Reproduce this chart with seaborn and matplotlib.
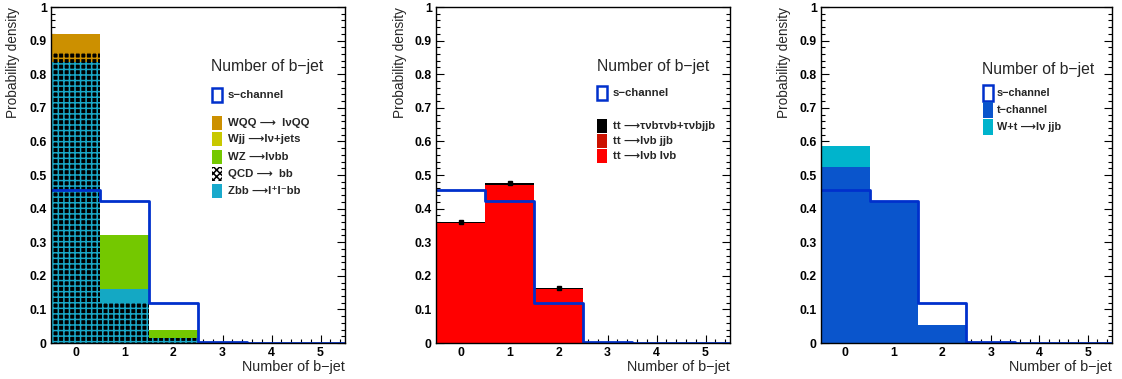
import numpy as np
import matplotlib
matplotlib.use("Agg")
import matplotlib.pyplot as plt
from matplotlib.patches import Rectangle
from matplotlib.ticker import MultipleLocator, FixedLocator, FixedFormatter
import seaborn as sns

# ---------------- data ----------------
bins = [0, 1, 2, 3, 4, 5]
s_channel = [0.455, 0.422, 0.120, 0.003, 0.0, 0.0]

# panel 1 (backgrounds) - visual layers, bottom to top
qcd_zbb = [0.835, 0.120, 0.015, 0.002, 0.0, 0.0]
qcd_wqq = [0.030, 0.0, 0.0, 0.0, 0.0, 0.0]
zbb = [0.0, 0.040, 0.0, 0.0, 0.0, 0.0]
wz = [0.0, 0.160, 0.025, 0.0, 0.0, 0.0]
wjj = [0.0, 0.0, 0.0, 0.0, 0.0, 0.0]
wqq = [0.055, 0.0, 0.0, 0.0, 0.0, 0.0]

# panel 2 (ttbar)
tt_lvb_lvb = [0.356, 0.471, 0.160, 0.002, 0.0, 0.0]
tt_lvb_jjb = [0.0, 0.0, 0.0, 0.0, 0.0, 0.0]
tt_tau = [0.004, 0.004, 0.003, 0.001, 0.0, 0.0]

# panel 3 (single top)
t_channel = [0.525, 0.420, 0.055, 0.002, 0.0, 0.0]
w_t = [0.060, 0.002, 0.0, 0.0, 0.0, 0.0]

y_ticks = [0, 0.1, 0.2, 0.3, 0.4, 0.5, 0.6, 0.7, 0.8, 0.9, 1.0]
y_tick_labels = ["0", "0.1", "0.2", "0.3", "0.4", "0.5", "0.6", "0.7", "0.8", "0.9", "1"]
x_tick_labels = ["0", "1", "2", "3", "4", "5"]

title_text = "Number of b\u2212jet"
ylabel_text = "Probability density"

# ---------------- style ----------------
sns.set_style("ticks")
plt.rcParams["font.family"] = ["Liberation Sans", "DejaVu Sans"]
plt.rcParams["hatch.linewidth"] = 1.1
plt.rcParams["axes.linewidth"] = 1.0

SBLUE = "#0030cc"
FAM = ["Liberation Sans", "DejaVu Sans"]

fig = plt.figure(figsize=(11.22, 3.79), dpi=100)
H = 379.0
W = 1122.0
axes_px = [(51, 294), (436, 294), (821, 291)]
axs = []
for x0, w in axes_px:
    axs.append(fig.add_axes([x0 / W, 1 - 343 / H, w / W, 336 / H]))


def stack(ax, layers):
    bottom = np.zeros(len(bins))
    for vals, kw in layers:
        vals = np.asarray(vals, dtype=float)
        ax.bar(bins, vals, width=1.0, bottom=bottom, linewidth=0, zorder=2, **kw)
        bottom = bottom + vals
    return bottom


def s_line(ax):
    sns.histplot(x=bins, weights=s_channel, discrete=True, element="step",
                 fill=False, color=SBLUE, linewidth=2.0, ax=ax, zorder=4)


def style(ax, ylab_x):
    ax.set_xlim(-0.5, 5.5)
    ax.set_ylim(0, 1)
    ax.set_xlabel("")
    ax.set_ylabel("")
    ax.xaxis.set_major_locator(FixedLocator(bins))
    ax.xaxis.set_major_formatter(FixedFormatter(x_tick_labels))
    ax.xaxis.set_minor_locator(MultipleLocator(0.2))
    ax.yaxis.set_major_locator(FixedLocator(y_ticks))
    ax.yaxis.set_major_formatter(FixedFormatter(y_tick_labels))
    ax.yaxis.set_minor_locator(MultipleLocator(0.02))
    ax.tick_params(which="both", direction="in", top=False, right=True,
                   width=0.8, colors="black", zorder=6)
    ax.tick_params(which="major", length=5.5, labelsize=8.8, pad=3)
    ax.tick_params(which="minor", length=3)
    for lab in ax.get_xticklabels() + ax.get_yticklabels():
        lab.set_fontweight("bold")
    for sp in ax.spines.values():
        sp.set_visible(True)
        sp.set_color("black")
        sp.set_linewidth(1.0)
        sp.set_zorder(6)
    ax.text(ylab_x, 1.0, ylabel_text, rotation=90, ha="center", va="top",
            fontsize=9.8, transform=ax.transAxes)
    ax.text(1.0, -0.072, title_text, ha="right", va="center", fontsize=10.4,
            transform=ax.transAxes)


def legend(ax, tx, ty, boxx, textx, entries, fs=8.2, bh=0.042, bw=0.034):
    ax.text(tx, ty, title_text, ha="left", va="center", fontsize=11.3,
            transform=ax.transAxes)
    for y, label, kw in entries:
        r = Rectangle((boxx, y - bh / 2), bw, bh, transform=ax.transAxes,
                      clip_on=False, zorder=7, **kw)
        ax.add_patch(r)
        ax.text(textx, y, label, ha="left", va="center", fontsize=fs,
                fontweight="bold", family=FAM, transform=ax.transAxes, zorder=7)


ARR = "\u27f6"

# ---------------- panel 1 ----------------
ax = axs[0]
stack(ax, [
    (qcd_zbb, dict(color="black", edgecolor="#19a8c8", hatch="+++")),
    (qcd_wqq, dict(color="black", edgecolor="#cc9000", hatch="+++")),
    (zbb, dict(color="#14a8c4")),
    (wz, dict(color="#74c800")),
    (wjj, dict(color="#c8c800")),
    (wqq, dict(color="#cc9000")),
])
s_line(ax)
style(ax, -0.128)
legend(ax, 0.544, 0.824, 0.548, 0.602, [
    (0.738, "s\u2212channel", dict(facecolor="white", edgecolor=SBLUE, linewidth=1.8)),
    (0.655, "WQQ " + ARR + "  l\u03bdQQ", dict(facecolor="#cc9000", linewidth=0)),
    (0.607, "Wjj " + ARR + "l\u03bd+jets", dict(facecolor="#c8c800", linewidth=0)),
    (0.554, "WZ " + ARR + "l\u03bdbb", dict(facecolor="#74c800", linewidth=0)),
    (0.503, "QCD " + ARR + "  bb", dict(facecolor="white", edgecolor="black", hatch="xxxxx", linewidth=0)),
    (0.452, "Zbb " + ARR + "l\u207al\u207bbb", dict(facecolor="#19aacc", linewidth=0)),
])

# ---------------- panel 2 ----------------
ax = axs[1]
top2 = stack(ax, [
    (tt_lvb_lvb, dict(color="#ff0000")),
    (tt_lvb_jjb, dict(color="#cc1100")),
    (tt_tau, dict(color="black")),
])
ax.errorbar(bins[:3], top2[:3], yerr=0.004, fmt="s", ms=2.5, color="black",
            elinewidth=1.0, capsize=0, zorder=5)
s_line(ax)
style(ax, -0.122)
legend(ax, 0.548, 0.824, 0.548, 0.602, [
    (0.744, "s\u2212channel", dict(facecolor="white", edgecolor=SBLUE, linewidth=1.8)),
    (0.646, "tt " + ARR + "\u03c4\u03bdb\u03c4\u03bdb+\u03c4\u03bdbjjb",
     dict(facecolor="black", linewidth=0)),
    (0.601, "tt " + ARR + "l\u03bdb jjb", dict(facecolor="#cc1100", linewidth=0)),
    (0.557, "tt " + ARR + "l\u03bdb l\u03bdb", dict(facecolor="#ff0000", linewidth=0)),
])

# ---------------- panel 3 ----------------
ax = axs[2]
stack(ax, [
    (t_channel, dict(color="#0a55cc")),
    (w_t, dict(color="#00b4cc")),
])
s_line(ax)
style(ax, -0.127)
legend(ax, 0.553, 0.815, 0.557, 0.605, [
    (0.744, "s\u2212channel", dict(facecolor="white", edgecolor=SBLUE, linewidth=1.8)),
    (0.693, "t\u2212channel", dict(facecolor="#0a55cc", linewidth=0)),
    (0.643, "W+t " + ARR + "l\u03bd jjb", dict(facecolor="#00b4cc", linewidth=0)),
], fs=7.8, bh=0.046)

fig.savefig("out.png", dpi=100)
